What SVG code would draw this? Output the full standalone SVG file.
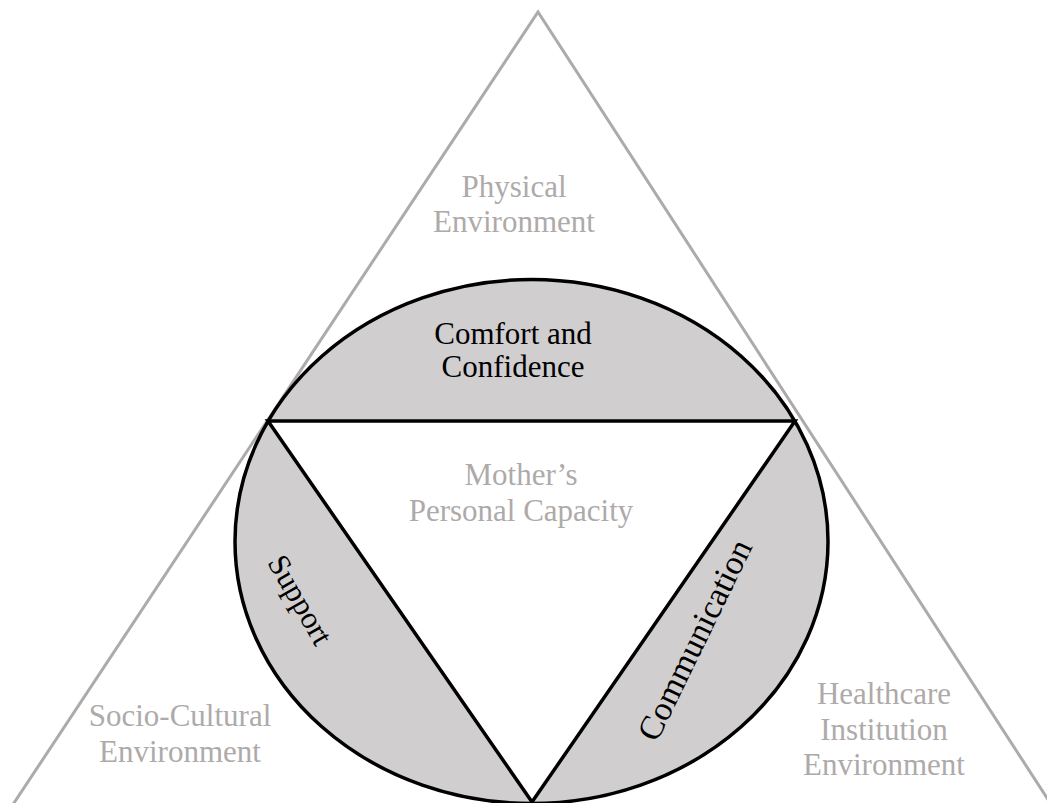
<svg xmlns="http://www.w3.org/2000/svg" width="1047" height="803" viewBox="0 0 1047 803">
<style>
.t{font-family:"Liberation Serif","Times New Roman",serif;font-size:31px;text-anchor:middle}
.g{fill:#aeaaaa}
.k{fill:#000}
.outer{fill:none;stroke:#aeaaaa;stroke-width:3}
.blk{stroke:#000;stroke-width:3.5;stroke-linejoin:miter}
</style>
<rect width="1047" height="803" fill="#fff"/>
<g id="outer-triangle">
<path class="outer" d="M6,815 L538,12 L1058,815"/>
</g>
<g id="circle">
<ellipse class="blk" cx="531.5" cy="541.5" rx="296.5" ry="262" fill="#d0cece"/>
</g>
<g id="inner-triangle">
<polygon class="blk" points="268,421 795,421 532,802" fill="#fff"/>
</g>
<g id="physical">
<text class="t g" x="514" y="197">Physical</text>
<text class="t g" x="514" y="232">Environment</text>
</g>
<g id="comfort">
<text class="t k" x="513" y="344">Comfort and</text>
<text class="t k" x="513" y="377">Confidence</text>
</g>
<g id="mother">
<text class="t g" x="521" y="485">Mother’s</text>
<text class="t g" x="521" y="521">Personal Capacity</text>
</g>
<g id="sociocultural">
<text class="t g" x="180" y="726">Socio-Cultural</text>
<text class="t g" x="180" y="762">Environment</text>
</g>
<g id="healthcare">
<text class="t g" x="884" y="704">Healthcare</text>
<text class="t g" x="884" y="740">Institution</text>
<text class="t g" x="884" y="775">Environment</text>
</g>
<g id="support">
<text class="t k" transform="translate(300,600) rotate(60)" x="0" y="10">Support</text>
</g>
<g id="communication">
<text class="t k" style="font-size:34px" transform="translate(695,640) rotate(-64)" x="0" y="11">Communication</text>
</g>
<g id="connectors"></g>
</svg>
